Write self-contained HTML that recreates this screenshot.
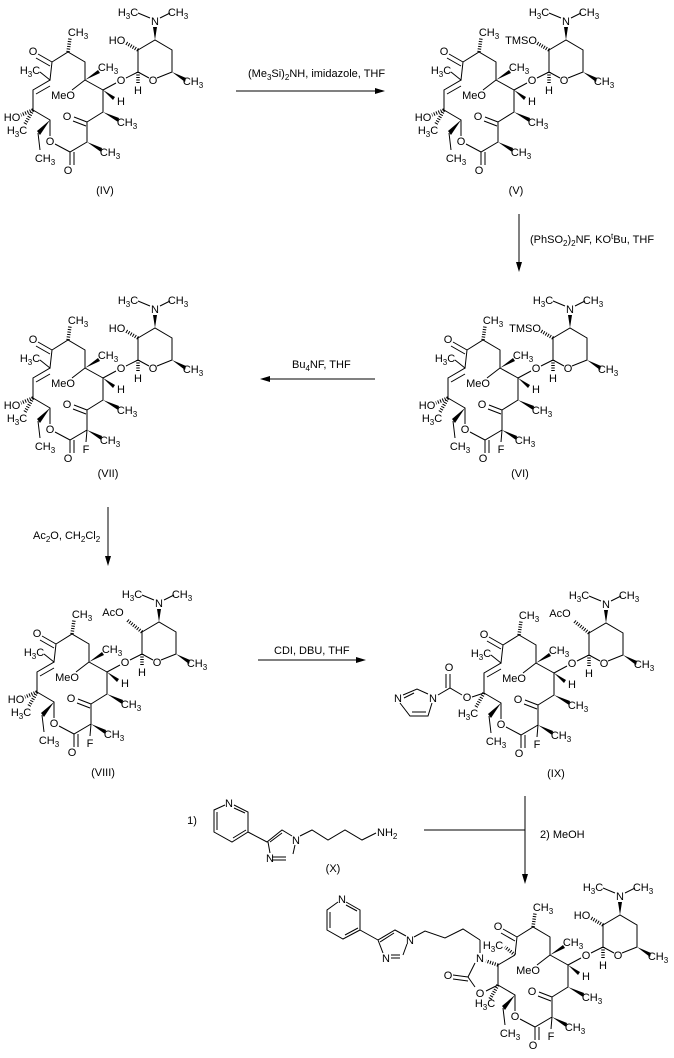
<!DOCTYPE html>
<html><head><meta charset="utf-8"><style>
html,body{margin:0;padding:0;background:#fff;}
svg{display:block;}
text{font-family:"Liberation Sans",Arial,sans-serif;font-size:11px;text-anchor:middle;fill:#000;}
text.r{text-anchor:start;}
.s{font-size:8px;}
path.b{stroke:#000;stroke-width:1;fill:none;}
path.h{stroke:#000;stroke-width:3.5;fill:none;stroke-dasharray:1 1.5;}
polygon{fill:#000;}
</style></head><body>
<svg width="674" height="1058" viewBox="0 0 674 1058" xmlns="http://www.w3.org/2000/svg">

<!-- IV -->
<g transform="translate(0,0)">
<path class="b" d="M50,80 L52,62 L68,52 L85,62 L85,80 L103,90 L103,112 L87,122 L87,142 L70,152 L55,144 M50,136 L50,120 L33,110 L33,90 L50,80 L40,72 M85,80 L72,90 M103,90 L116,83 M52,62 L38,54 M50,66 L36,58 M87,122 L74,117 M86,126 L73,121 M70,152 L70,165 M74,152 L74,165 M36,94 L50,86 M38,133 L40,150 M126,78 L138,72 L149,78 M157,78 L172,72 L172,50 L155,40 L138,50 L138,72 M150,18 L138,13 M160,18 L170,13"/>
<polygon points="85,80 98,70 100,73"/><polygon points="103,90 113,100 115,97"/><polygon points="103,112 119,118 118,122"/><polygon points="87,142 102,148 101,152"/><polygon points="50,120 37,131 40,135"/><polygon points="172,72 186,78 185,82"/><polygon points="155,40 153,27 157,27"/>
<path class="h" d="M68,52 L70,38 M33,110 L21,115 M33,110 L25,124 M138,50 L126,43 M138,72 L138,84"/>
<text x="33" y="55">O</text><text x="78" y="36">CH<tspan class="s" dy="3">3</tspan></text><text x="108" y="71">CH<tspan class="s" dy="3">3</tspan></text><text x="63" y="99">MeO</text><text x="121" y="84">O</text><text x="121" y="105">H</text><text x="127" y="126">CH<tspan class="s" dy="3">3</tspan></text><text x="67" y="120">O</text><text x="110" y="156">CH<tspan class="s" dy="3">3</tspan></text><text x="68" y="174">O</text><text x="50" y="145">O</text><text x="45" y="162">CH<tspan class="s" dy="3">3</tspan></text><text x="12" y="121">HO</text><text x="17" y="134">H<tspan class="s" dy="3">3</tspan><tspan dy="-3">C</tspan></text><text x="30" y="74">H<tspan class="s" dy="3">3</tspan><tspan dy="-3">C</tspan></text><text x="138" y="94">H</text><text x="153" y="84">O</text><text x="193" y="85">CH<tspan class="s" dy="3">3</tspan></text><text x="155" y="25">N</text><text x="128" y="16">H<tspan class="s" dy="3">3</tspan><tspan dy="-3">C</tspan></text><text x="178" y="16">CH<tspan class="s" dy="3">3</tspan></text><text x="117" y="44">HO</text>
<text x="105" y="194">(IV)</text>
</g>

<!-- V -->
<g transform="translate(411,0)">
<path class="b" d="M50,80 L52,62 L68,52 L85,62 L85,80 L103,90 L103,112 L87,122 L87,142 L70,152 L55,144 M50,136 L50,120 L33,110 L33,90 L50,80 L40,72 M85,80 L72,90 M103,90 L116,83 M52,62 L38,54 M50,66 L36,58 M87,122 L74,117 M86,126 L73,121 M70,152 L70,165 M74,152 L74,165 M36,94 L50,86 M38,133 L40,150 M126,78 L138,72 L149,78 M157,78 L172,72 L172,50 L155,40 L138,50 L138,72 M150,18 L138,13 M160,18 L170,13"/>
<polygon points="85,80 98,70 100,73"/><polygon points="103,90 113,100 115,97"/><polygon points="103,112 119,118 118,122"/><polygon points="87,142 102,148 101,152"/><polygon points="50,120 37,131 40,135"/><polygon points="172,72 186,78 185,82"/><polygon points="155,40 153,27 157,27"/>
<path class="h" d="M68,52 L70,38 M33,110 L21,115 M33,110 L25,124 M138,50 L126,43 M138,72 L138,84"/>
<text x="33" y="55">O</text><text x="78" y="36">CH<tspan class="s" dy="3">3</tspan></text><text x="108" y="71">CH<tspan class="s" dy="3">3</tspan></text><text x="63" y="99">MeO</text><text x="121" y="84">O</text><text x="121" y="105">H</text><text x="127" y="126">CH<tspan class="s" dy="3">3</tspan></text><text x="67" y="120">O</text><text x="110" y="156">CH<tspan class="s" dy="3">3</tspan></text><text x="68" y="174">O</text><text x="50" y="145">O</text><text x="45" y="162">CH<tspan class="s" dy="3">3</tspan></text><text x="12" y="121">HO</text><text x="17" y="134">H<tspan class="s" dy="3">3</tspan><tspan dy="-3">C</tspan></text><text x="30" y="74">H<tspan class="s" dy="3">3</tspan><tspan dy="-3">C</tspan></text><text x="138" y="94">H</text><text x="153" y="84">O</text><text x="193" y="85">CH<tspan class="s" dy="3">3</tspan></text><text x="155" y="25">N</text><text x="128" y="16">H<tspan class="s" dy="3">3</tspan><tspan dy="-3">C</tspan></text><text x="178" y="16">CH<tspan class="s" dy="3">3</tspan></text><text x="110" y="44">TMSO</text>
<text x="105" y="194">(V)</text>
</g>

<!-- VI -->
<g transform="translate(415,288)">
<path class="b" d="M50,80 L52,62 L68,52 L85,62 L85,80 L103,90 L103,112 L87,122 L87,142 L70,152 L55,144 M50,136 L50,120 L33,110 L33,90 L50,80 L40,72 M85,80 L72,90 M103,90 L116,83 M52,62 L38,54 M50,66 L36,58 M87,122 L74,117 M86,126 L73,121 M70,152 L70,165 M74,152 L74,165 M36,94 L50,86 M38,133 L40,150 M87,142 L86,154 M126,78 L138,72 L149,78 M157,78 L172,72 L172,50 L155,40 L138,50 L138,72 M150,18 L138,13 M160,18 L170,13"/>
<polygon points="85,80 98,70 100,73"/><polygon points="103,90 113,100 115,97"/><polygon points="103,112 119,118 118,122"/><polygon points="87,142 102,148 101,152"/><polygon points="50,120 37,131 40,135"/><polygon points="172,72 186,78 185,82"/><polygon points="155,40 153,27 157,27"/>
<path class="h" d="M68,52 L70,38 M33,110 L21,115 M33,110 L25,124 M138,50 L126,43 M138,72 L138,84"/>
<text x="33" y="55">O</text><text x="78" y="36">CH<tspan class="s" dy="3">3</tspan></text><text x="108" y="71">CH<tspan class="s" dy="3">3</tspan></text><text x="63" y="99">MeO</text><text x="121" y="84">O</text><text x="121" y="105">H</text><text x="127" y="126">CH<tspan class="s" dy="3">3</tspan></text><text x="67" y="120">O</text><text x="110" y="156">CH<tspan class="s" dy="3">3</tspan></text><text x="68" y="174">O</text><text x="50" y="145">O</text><text x="45" y="162">CH<tspan class="s" dy="3">3</tspan></text><text x="86" y="165">F</text><text x="12" y="121">HO</text><text x="17" y="134">H<tspan class="s" dy="3">3</tspan><tspan dy="-3">C</tspan></text><text x="30" y="74">H<tspan class="s" dy="3">3</tspan><tspan dy="-3">C</tspan></text><text x="138" y="94">H</text><text x="153" y="84">O</text><text x="193" y="85">CH<tspan class="s" dy="3">3</tspan></text><text x="155" y="25">N</text><text x="128" y="16">H<tspan class="s" dy="3">3</tspan><tspan dy="-3">C</tspan></text><text x="178" y="16">CH<tspan class="s" dy="3">3</tspan></text><text x="110" y="44">TMSO</text>
<text x="105" y="189">(VI)</text>
</g>

<!-- VII -->
<g transform="translate(0,288)">
<path class="b" d="M50,80 L52,62 L68,52 L85,62 L85,80 L103,90 L103,112 L87,122 L87,142 L70,152 L55,144 M50,136 L50,120 L33,110 L33,90 L50,80 L40,72 M85,80 L72,90 M103,90 L116,83 M52,62 L38,54 M50,66 L36,58 M87,122 L74,117 M86,126 L73,121 M70,152 L70,165 M74,152 L74,165 M36,94 L50,86 M38,133 L40,150 M87,142 L86,154 M126,78 L138,72 L149,78 M157,78 L172,72 L172,50 L155,40 L138,50 L138,72 M150,18 L138,13 M160,18 L170,13"/>
<polygon points="85,80 98,70 100,73"/><polygon points="103,90 113,100 115,97"/><polygon points="103,112 119,118 118,122"/><polygon points="87,142 102,148 101,152"/><polygon points="50,120 37,131 40,135"/><polygon points="172,72 186,78 185,82"/><polygon points="155,40 153,27 157,27"/>
<path class="h" d="M68,52 L70,38 M33,110 L21,115 M33,110 L25,124 M138,50 L126,43 M138,72 L138,84"/>
<text x="33" y="55">O</text><text x="78" y="36">CH<tspan class="s" dy="3">3</tspan></text><text x="108" y="71">CH<tspan class="s" dy="3">3</tspan></text><text x="63" y="99">MeO</text><text x="121" y="84">O</text><text x="121" y="105">H</text><text x="127" y="126">CH<tspan class="s" dy="3">3</tspan></text><text x="67" y="120">O</text><text x="110" y="156">CH<tspan class="s" dy="3">3</tspan></text><text x="68" y="174">O</text><text x="50" y="145">O</text><text x="45" y="162">CH<tspan class="s" dy="3">3</tspan></text><text x="86" y="165">F</text><text x="12" y="121">HO</text><text x="17" y="134">H<tspan class="s" dy="3">3</tspan><tspan dy="-3">C</tspan></text><text x="30" y="74">H<tspan class="s" dy="3">3</tspan><tspan dy="-3">C</tspan></text><text x="138" y="94">H</text><text x="153" y="84">O</text><text x="193" y="85">CH<tspan class="s" dy="3">3</tspan></text><text x="155" y="25">N</text><text x="128" y="16">H<tspan class="s" dy="3">3</tspan><tspan dy="-3">C</tspan></text><text x="178" y="16">CH<tspan class="s" dy="3">3</tspan></text><text x="117" y="44">HO</text>
<text x="108" y="189">(VII)</text>
</g>

<!-- VIII -->
<g transform="translate(4,582)">
<path class="b" d="M50,80 L52,62 L68,52 L85,62 L85,80 L103,90 L103,112 L87,122 L87,142 L70,152 L55,144 M50,136 L50,120 L33,110 L33,90 L50,80 L40,72 M85,80 L72,90 M103,90 L116,83 M52,62 L38,54 M50,66 L36,58 M87,122 L74,117 M86,126 L73,121 M70,152 L70,165 M74,152 L74,165 M36,94 L50,86 M38,133 L40,150 M87,142 L86,154 M126,78 L138,72 L149,78 M157,78 L172,72 L172,50 L155,40 L138,50 L138,72 M150,18 L138,13 M160,18 L170,13"/>
<polygon points="85,80 98,70 100,73"/><polygon points="103,90 113,100 115,97"/><polygon points="103,112 119,118 118,122"/><polygon points="87,142 102,148 101,152"/><polygon points="50,120 37,131 40,135"/><polygon points="172,72 186,78 185,82"/><polygon points="155,40 153,27 157,27"/>
<path class="h" d="M68,52 L70,38 M33,110 L21,115 M33,110 L25,124 M138,50 L123,38 M138,72 L138,84"/>
<text x="33" y="55">O</text><text x="78" y="36">CH<tspan class="s" dy="3">3</tspan></text><text x="108" y="71">CH<tspan class="s" dy="3">3</tspan></text><text x="63" y="99">MeO</text><text x="121" y="84">O</text><text x="121" y="105">H</text><text x="127" y="126">CH<tspan class="s" dy="3">3</tspan></text><text x="67" y="120">O</text><text x="110" y="156">CH<tspan class="s" dy="3">3</tspan></text><text x="68" y="174">O</text><text x="50" y="145">O</text><text x="45" y="162">CH<tspan class="s" dy="3">3</tspan></text><text x="86" y="165">F</text><text x="12" y="121">HO</text><text x="17" y="134">H<tspan class="s" dy="3">3</tspan><tspan dy="-3">C</tspan></text><text x="30" y="74">H<tspan class="s" dy="3">3</tspan><tspan dy="-3">C</tspan></text><text x="138" y="94">H</text><text x="153" y="84">O</text><text x="193" y="85">CH<tspan class="s" dy="3">3</tspan></text><text x="155" y="25">N</text><text x="128" y="16">H<tspan class="s" dy="3">3</tspan><tspan dy="-3">C</tspan></text><text x="178" y="16">CH<tspan class="s" dy="3">3</tspan></text><text x="109" y="34">AcO</text>
<text x="99" y="194">(VIII)</text>
</g>

<!-- IX -->
<g transform="translate(451,583)">
<path class="b" d="M50,80 L52,62 L68,52 L85,62 L85,80 L103,90 L103,112 L87,122 L87,142 L70,152 L55,144 M50,136 L50,120 L33,110 L33,90 L50,80 L40,72 M85,80 L72,90 M103,90 L116,83 M52,62 L38,54 M50,66 L36,58 M87,122 L74,117 M86,126 L73,121 M70,152 L70,165 M74,152 L74,165 M36,94 L50,86 M38,133 L40,150 M87,142 L86,154 M126,78 L138,72 L149,78 M157,78 L172,72 L172,50 L155,40 L138,50 L138,72 M150,18 L138,13 M160,18 L170,13"/>
<polygon points="85,80 98,70 100,73"/><polygon points="103,90 113,100 115,97"/><polygon points="103,112 119,118 118,122"/><polygon points="87,142 102,148 101,152"/><polygon points="50,120 37,131 40,135"/><polygon points="172,72 186,78 185,82"/><polygon points="155,40 153,27 157,27"/>
<path class="h" d="M68,52 L70,38 M33,110 L25,124 M138,50 L123,38 M138,72 L138,84"/>
<text x="33" y="55">O</text><text x="78" y="36">CH<tspan class="s" dy="3">3</tspan></text><text x="108" y="71">CH<tspan class="s" dy="3">3</tspan></text><text x="63" y="99">MeO</text><text x="121" y="84">O</text><text x="121" y="105">H</text><text x="127" y="126">CH<tspan class="s" dy="3">3</tspan></text><text x="67" y="120">O</text><text x="110" y="156">CH<tspan class="s" dy="3">3</tspan></text><text x="68" y="174">O</text><text x="50" y="145">O</text><text x="45" y="162">CH<tspan class="s" dy="3">3</tspan></text><text x="86" y="165">F</text><text x="17" y="134">H<tspan class="s" dy="3">3</tspan><tspan dy="-3">C</tspan></text><text x="30" y="74">H<tspan class="s" dy="3">3</tspan><tspan dy="-3">C</tspan></text><text x="138" y="94">H</text><text x="153" y="84">O</text><text x="193" y="85">CH<tspan class="s" dy="3">3</tspan></text><text x="155" y="25">N</text><text x="128" y="16">H<tspan class="s" dy="3">3</tspan><tspan dy="-3">C</tspan></text><text x="178" y="16">CH<tspan class="s" dy="3">3</tspan></text><text x="109" y="34">AcO</text>
<text x="105" y="194">(IX)</text>
</g>
<!-- IX carbamate + imidazole -->
<path class="b" d="M484,693 L472,697 M462,695 L450,688 L438,695 M450,688 L450,674 M446,688 L446,674 M428,694 L417,689 L403,695 M414,693 L404,698 M400,703 L410,716 L428,716 L432,703 M412,712 L426,712"/>
<text x="467" y="701">O</text><text x="449" y="671">O</text><text x="433" y="702">N</text><text x="398" y="702">N</text>

<!-- Final product -->
<g transform="translate(465,875)">
<path class="b" d="M50,80 L52,62 L68,52 L85,62 L85,80 L103,90 L103,112 L87,122 L87,142 L70,152 L55,144 M50,136 L50,120 L33,110 L33,90 L50,80 M85,80 L72,90 M103,90 L116,83 M52,62 L38,54 M50,66 L36,58 M87,122 L74,117 M86,126 L73,121 M70,152 L70,165 M74,152 L74,165 M38,133 L40,150 M87,142 L86,154 M126,78 L138,72 L149,78 M157,78 L172,72 L172,50 L155,40 L138,50 L138,72 M150,18 L138,13 M160,18 L170,13 M15,78 L15,65 M10,88 L3,102 L10,112 M33,110 L21,116 M3,102 L-12,100 M3,106 L-12,104"/>
<polygon points="85,80 98,70 100,73"/><polygon points="103,90 113,100 115,97"/><polygon points="103,112 119,118 118,122"/><polygon points="87,142 102,148 101,152"/><polygon points="50,120 37,131 40,135"/><polygon points="172,72 186,78 185,82"/><polygon points="155,40 153,27 157,27"/>
<path class="h" d="M68,52 L70,38 M33,110 L25,124 M138,50 L126,43 M138,72 L138,84 M50,80 L40,72 M33,90 L21,86"/>
<text x="33" y="55">O</text><text x="78" y="36">CH<tspan class="s" dy="3">3</tspan></text><text x="108" y="71">CH<tspan class="s" dy="3">3</tspan></text><text x="63" y="99">MeO</text><text x="121" y="84">O</text><text x="121" y="105">H</text><text x="127" y="126">CH<tspan class="s" dy="3">3</tspan></text><text x="67" y="120">O</text><text x="110" y="156">CH<tspan class="s" dy="3">3</tspan></text><text x="68" y="174">O</text><text x="50" y="145">O</text><text x="45" y="162">CH<tspan class="s" dy="3">3</tspan></text><text x="86" y="165">F</text><text x="20" y="132">H<tspan class="s" dy="3">3</tspan><tspan dy="-3">C</tspan></text><text x="28" y="74">H<tspan class="s" dy="3">3</tspan><tspan dy="-3">C</tspan></text><text x="138" y="94">H</text><text x="153" y="84">O</text><text x="193" y="85">CH<tspan class="s" dy="3">3</tspan></text><text x="155" y="25">N</text><text x="128" y="16">H<tspan class="s" dy="3">3</tspan><tspan dy="-3">C</tspan></text><text x="178" y="16">CH<tspan class="s" dy="3">3</tspan></text><text x="117" y="44">HO</text>
<text x="15" y="87">N</text><text x="15" y="122">O</text><text x="-17" y="104">O</text>
</g>
<!-- Final side chain -->
<path class="b" d="M480,940 L463,929 L445,938 L425,931 L414,937 M407,944 L403,955 M400,958 L391,958 M400,955 L391,955 M383,953 L378,940 L395,930 L406,936 M380,942 L394,933 M378,940 L360,930 L360,910 L346,902 M338,902 L327,910 L327,930 L343,939 L360,930 M330,912 L330,928 M345,935 L358,928 M357,911 L346,905"/>
<text x="410" y="944">N</text><text x="386" y="962">N</text><text x="342" y="903">N</text>

<!-- X -->
<path class="b" d="M225,805 L214,810 L214,832 L232,842 L248,832 L248,812 L234,805 M217,812 L217,830 M233,838 L246,830 M245,813 L234,808 M248,832 L267,842 L282,830 L292,836 M268,842 L270,853 M272,860 L286,860 M272,857 L286,857 M293,854 L295,845 M270,842 L282,833 M300,836 L312,830 L328,840 L345,830 L362,840 L376,833"/>
<text x="229" y="807">N</text><text x="296" y="844">N</text><text x="270" y="862">N</text><text class="r" x="377" y="836">NH<tspan class="s" dy="3">2</tspan></text>
<text x="333" y="872">(X)</text>
<text x="192" y="824">1)</text>

<!-- Arrows -->
<g stroke="#000" stroke-width="1" fill="none">
<path d="M236,91 L382,91 M519,214 L519,268 M375,379 L264,379 M108,507 L108,562 M258,660 L362,660 M424,830 L525,830 M525,796 L525,880"/>
</g>
<polygon points="385,91 375,88 375,94"/>
<polygon points="519,272 516,262 522,262"/>
<polygon points="260,379 270,376 270,382"/>
<polygon points="108,566 105,556 111,556"/>
<polygon points="366,660 356,657 356,663"/>
<polygon points="525,884 522,874 528,874"/>

<text class="r" x="248" y="77">(Me<tspan class="s" dy="3">3</tspan><tspan dy="-3">Si)</tspan><tspan class="s" dy="3">2</tspan><tspan dy="-3">NH, imidazole, THF</tspan></text>
<text class="r" x="530" y="243">(PhSO<tspan class="s" dy="3">2</tspan><tspan dy="-3">)</tspan><tspan class="s" dy="3">2</tspan><tspan dy="-3">NF, KO</tspan><tspan class="s" dy="-4">t</tspan><tspan dy="4">Bu, THF</tspan></text>
<text class="r" x="292" y="368">Bu<tspan class="s" dy="3">4</tspan><tspan dy="-3">NF, THF</tspan></text>
<text class="r" x="33" y="539">Ac<tspan class="s" dy="3">2</tspan><tspan dy="-3">O, CH</tspan><tspan class="s" dy="3">2</tspan><tspan dy="-3">Cl</tspan><tspan class="s" dy="3">2</tspan></text>
<text class="r" x="274" y="654">CDI, DBU, THF</text>
<text class="r" x="540" y="838">2) MeOH</text>
</svg>
</body></html>
